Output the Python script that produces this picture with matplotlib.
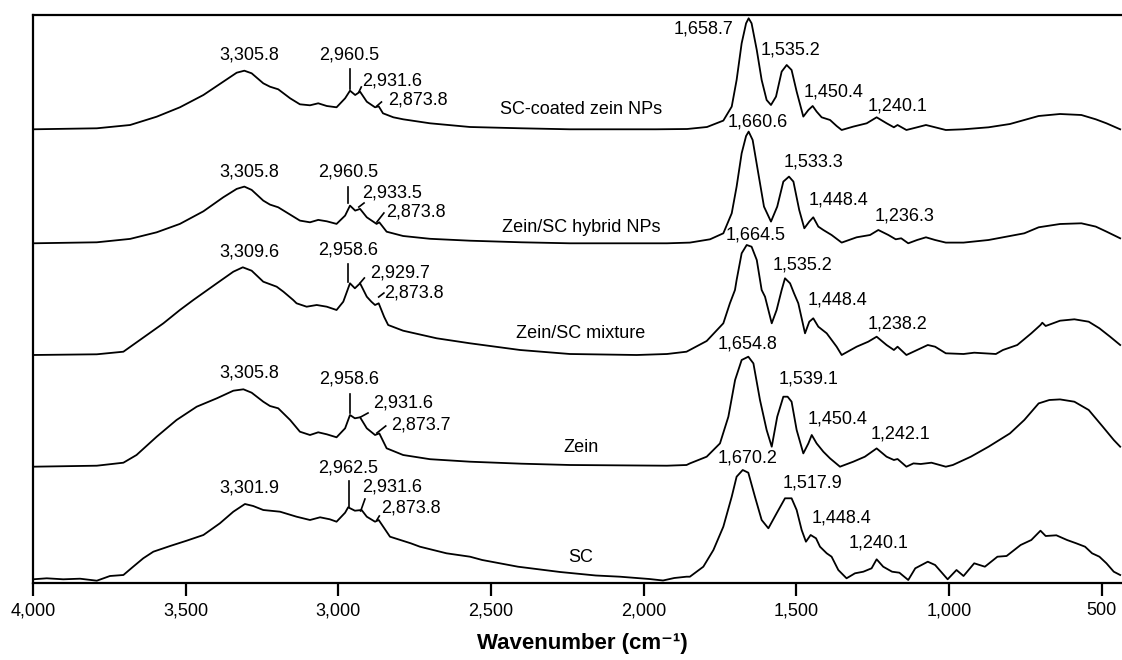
import matplotlib
matplotlib.use("Agg")
import matplotlib.pyplot as plt

plt.rcParams['font.family'] = ['Liberation Sans', 'DejaVu Sans']

# FTIR spectra: wavenumber (cm-1) and intensity above each trace's own baseline
wn_coated = [4000, 3791, 3682, 3595, 3519, 3442, 3377, 3333, 3308, 3284, 3246, 3224, 3197, 3158,
             3126, 3093, 3066, 3038, 3006, 2978, 2962, 2945, 2929, 2907, 2880, 2868, 2854, 2820,
             2788, 2700, 2569, 2400, 2242, 1960, 1858, 1793, 1739.5, 1712, 1696, 1679.5, 1665,
             1656.6, 1647, 1630, 1614, 1597.7, 1583.5, 1567, 1548.5, 1532, 1516, 1499.4, 1477.6,
             1461, 1447, 1434, 1417.6, 1390, 1368.5, 1352, 1314, 1270, 1237.5, 1204.7, 1181,
             1169, 1140, 1105, 1076, 1046, 1011, 953, 871, 801, 754, 707, 637, 567, 520, 485, 440]
i_coated = [0, 1, 4.3, 12.6, 22, 34.3, 47.6, 56.6, 58.6, 56, 46, 42.6, 40, 31,
            25, 24, 26, 23.3, 22, 31, 38.6, 34.3, 37.6, 27.6, 22, 23, 16, 12,
            10, 6, 2.3, 1, 0, 0, 0.3, 2.3, 8.7, 22.7, 49.3, 86, 106,
            111, 106, 79.3, 49.3, 29.3, 24.3, 32.7, 57.7, 64.3, 59.3, 37.7, 12.7,
            19.3, 23.3, 17.7, 12, 9.3, 3.3, -0.7, 2.7, 6, 12, 6, 2,
            4.3, -0.7, 2, 4.3, 2, -0.7, 0, 2, 5.3, 9.3, 13.3, 15.3, 14.3, 10, 6, 0]

wn_hybrid = [4000, 3791, 3682, 3595, 3519, 3442, 3377, 3333, 3308, 3284, 3246, 3224, 3197, 3158,
             3126, 3093, 3066, 3038, 3006, 2978, 2962, 2945, 2929, 2907, 2875, 2866, 2842, 2788,
             2700, 2569, 2400, 2242, 1924, 1849, 1783, 1739.5, 1712, 1696, 1679.5, 1665, 1656.6,
             1643.5, 1625, 1606.4, 1583.5, 1563, 1543, 1524.5, 1510, 1491, 1474.3, 1458, 1445,
             1428.5, 1412, 1385, 1352, 1303, 1259, 1232, 1199, 1175, 1157, 1134, 1105, 1076,
             1046, 1011, 953, 871, 801, 754, 707, 637, 567, 520, 485, 440]
i_hybrid = [0, 1, 4.4, 11, 19.4, 32, 46, 54.4, 56.7, 53.4, 42.7, 38.7, 36, 28.7,
            22.7, 21, 23.4, 22, 19.4, 27.7, 37.7, 32.7, 34.4, 26, 19.4, 21, 11.6, 7.3,
            4.5, 2.6, 1, 0, 0, 0.7, 4, 10, 30, 56.7, 90, 107.3, 111.7,
            103.3, 70, 36.7, 21.7, 36.7, 61.7, 66.7, 61.7, 33.3, 15, 21.7, 26,
            16.7, 13.3, 8.3, 0.7, 6, 8.3, 13.3, 8.3, 4, 5, 0, 3.3, 6,
            3.3, 0.7, 0.7, 3.3, 7.3, 10, 16, 19.3, 20, 16.7, 11.7, 5]

wn_mixture = [4000, 3791, 3704, 3650, 3573, 3519, 3475, 3398, 3344, 3313, 3284, 3246, 3202, 3180,
              3148, 3137, 3104, 3071, 3038, 3006, 2984, 2962, 2946, 2929, 2907, 2892, 2880, 2868,
              2850, 2837, 2788, 2678, 2569, 2405, 2242, 2023, 1924, 1860, 1794, 1739.5, 1718,
              1701.4, 1696, 1679.5, 1663, 1647, 1630, 1614, 1603, 1581, 1565, 1548.5, 1537.6,
              1521, 1508, 1494, 1472, 1458, 1445, 1428.5, 1401, 1368.5, 1352, 1303, 1265, 1237.5,
              1205, 1181, 1169, 1140, 1105, 1070, 1046, 1011, 953, 918, 847, 824, 777, 731, 701,
              695, 684, 637, 590, 543, 508, 473, 440]
i_mixture = [0, 0.7, 3.3, 15, 31.7, 45, 55, 71.7, 83.3, 87.7, 84.3, 73.3, 68.3, 63.3,
             55, 51.7, 48.3, 50, 48.3, 45, 53.3, 71.7, 66.7, 71.7, 58.3, 53.3, 50, 51.7,
             38, 30, 24.3, 16.7, 11.7, 5, 1, 0, 1, 3.3, 14, 31.7, 51.7,
             65, 75, 101.7, 110, 108.3, 95, 65, 58.3, 31.7, 45, 65, 76.7,
             71.7, 61.7, 51.7, 21.7, 33.3, 36.7, 28.3, 21.7, 8.3, 0, 8.3, 13.3, 18.3,
             10, 5, 8.3, 0, 5, 10, 8.3, 1.7, 1, 2.3, 1, 5, 10, 21.7, 30,
             32.3, 29, 34.3, 35.7, 33.3, 26.7, 18.3, 10]

wn_zein = [4000, 3791, 3704, 3661, 3595, 3530, 3464, 3398, 3344, 3311, 3284, 3246, 3224, 3197,
           3158, 3126, 3093, 3066, 3038, 3006, 2978, 2962, 2946, 2929, 2907, 2880, 2866, 2842,
           2788, 2700, 2569, 2400, 2242, 1924, 1860, 1849, 1794, 1750.5, 1723, 1701, 1679.5,
           1657.7, 1641, 1619.5, 1597.7, 1581, 1563, 1543, 1529, 1516, 1499.4, 1477.6, 1461,
           1450, 1434, 1412, 1390, 1357.5, 1314, 1276, 1237.5, 1205, 1181, 1169, 1140, 1117,
           1093, 1058, 1011, 988, 929, 871, 801, 754, 707, 672, 637, 590, 543, 497, 461, 440]
i_zein = [0, 1, 4, 11.7, 30, 46.7, 60, 68.4, 76, 77.4, 74, 65, 60.7, 58.4,
          46.7, 35, 31.7, 34.4, 32.4, 29.4, 38.4, 51.7, 48.4, 49.4, 38.4, 31.7, 33.3, 18.4,
          11.7, 7.5, 5, 3, 1.7, 1, 1.7, 3.3, 10, 23.3, 50, 86.7, 106.7,
          110, 103.3, 66.7, 36.7, 20, 50, 70, 70, 65, 36.7, 13.3, 23.3,
          31.7, 23.3, 15, 8.3, 0, 5, 10, 18.3, 10, 6.7, 7.7, 0, 3.3,
          2.7, 4, 0, 1.7, 10, 20, 33.3, 46.7, 63.3, 66.7, 67.3, 65, 56.7, 40, 26.7, 20]

wn_sc = [4000, 3955, 3901, 3846, 3791, 3748, 3704, 3672, 3639, 3606, 3551, 3497, 3442, 3388,
         3344, 3306, 3279, 3246, 3191, 3137, 3093, 3060, 3028, 3006, 2978, 2968, 2946, 2924,
         2907, 2880, 2868, 2831, 2763, 2733, 2646, 2569, 2529, 2412, 2274, 2157, 2078, 1982,
         1937, 1900, 1860, 1849, 1805, 1772, 1739.5, 1712, 1696, 1676, 1657.7, 1636, 1614,
         1592, 1565, 1537.6, 1516, 1499.4, 1483, 1469, 1453.6, 1436, 1423, 1401, 1385, 1363,
         1336, 1308.4, 1281, 1254, 1237.5, 1216, 1187, 1163, 1134, 1111, 1070, 1046, 1005,
         976, 953, 918, 883, 842, 812, 766, 731, 701, 684, 649, 614, 584, 555, 532, 508, 485,
         461, 440]
i_sc = [0.7, 1.7, 0.7, 1.3, -0.7, 4, 5, 13.3, 21.7, 28.3, 34, 39.3, 45, 56.7,
        68.3, 76, 74, 70, 68.3, 63.3, 60, 62.7, 60.7, 58.3, 67.3, 72.7, 69.3, 70,
        63.3, 58.3, 60, 43.3, 36.7, 33.3, 26.7, 23.3, 20, 13.3, 8, 4.5, 3.3, 1,
        -0.5, 2, 3.3, 3.3, 13.3, 30, 53.3, 83.3, 103.3, 110, 107.3, 83.3, 60,
        51.7, 66.7, 81.7, 81.7, 70, 50, 38.3, 45, 41.7, 33.3, 26.7, 23.3, 10,
        1.7, 6.7, 8.3, 11.7, 20.7, 13.3, 8.3, 7.3, 0, 11.7, 18.3, 15, 0.7,
        10, 4, 16.7, 13.3, 23.3, 24, 35, 40, 49.3, 44, 44.7, 40, 36.7, 33.3, 26.7, 23.3, 16.7,
        8.3, 5]

names = ["SC-coated zein NPs", "Zein/SC hybrid NPs", "Zein/SC mixture", "Zein", "SC"]
spectra = [(wn_coated, i_coated), (wn_hybrid, i_hybrid), (wn_mixture, i_mixture),
           (wn_zein, i_zein), (wn_sc, i_sc)]

# peak labels: (text, x, y) in data units of the stacked plot
peak_labels = [
    ("3,305.8", 3293, 528), ("2,960.5", 2965, 528), ("2,931.6", 2825, 502), ("2,873.8", 2739, 483),
    ("1,658.7", 1806, 554), ("1,535.2", 1518, 533), ("1,450.4", 1377, 491), ("1,240.1", 1169, 477),
    ("3,305.8", 3293, 411), ("2,960.5", 2969, 411), ("2,933.5", 2825, 390), ("2,873.8", 2746, 371),
    ("1,660.6", 1626, 461), ("1,533.3", 1443, 421), ("1,448.4", 1362, 383), ("1,236.3", 1145, 367),
    ("3,309.6", 3293, 331), ("2,958.6", 2969, 333), ("2,929.7", 2798, 310), ("2,873.8", 2752, 290),
    ("1,664.5", 1633, 348), ("1,535.2", 1479, 318), ("1,448.4", 1367, 283), ("1,238.2", 1169, 259),
    ("3,305.8", 3293, 210), ("2,958.6", 2965, 204), ("2,931.6", 2788, 180), ("2,873.7", 2729, 158),
    ("1,654.8", 1660, 239), ("1,539.1", 1459, 204), ("1,450.4", 1366, 164), ("1,242.1", 1158, 149),
    ("3,301.9", 3293, 95), ("2,962.5", 2969, 115), ("2,931.6", 2825, 96), ("2,873.8", 2763, 75),
    ("1,670.2", 1660, 125), ("1,517.9", 1446, 100), ("1,448.4", 1351, 65), ("1,240.1", 1230, 40),
]
name_y = [474, 356, 250, 135, 26]

# short leader marks next to the C-H peaks
leaders = [
    ((2962, 2962), (514, 494)), ((2933, 2925), (491, 496)), ((2874, 2859), (477, 481)),
    ((2969, 2969), (396, 380)), ((2933, 2916), (376, 380)), ((2874, 2851), (361, 370)),
    ((2969, 2969), (319, 301)), ((2929, 2915), (300, 305)), ((2868, 2851), (286, 290)),
    ((2962, 2962), (189, 170)), ((2927, 2903), (166, 170)), ((2874, 2845), (150, 157)),
    ((2965, 2965), (102, 76)), ((2927, 2913), (72, 84)), ((2874, 2866), (63, 67)),
]

offsets = [453.7, 339.7, 228, 116.3, 3]

fig = plt.figure(figsize=(11.22, 6.6), dpi=100)
ax = fig.add_axes([33 / 1122, 77 / 660, 1099.4 / 1122, 568 / 660])

for (wn, inten), off in zip(spectra, offsets):
    ax.plot(wn, [v + off for v in inten], color='black', lw=1.3, solid_joinstyle='round')

for txt, x, y in peak_labels:
    ax.text(x, y, txt, ha='center', va='center', fontsize=13)
for name, y in zip(names, name_y):
    ax.text(2206, y, name, ha='center', va='center', fontsize=13)
for xs, ys in leaders:
    ax.plot(xs, ys, color='black', lw=1.2)

ax.set_xlim(4000, 400)
ax.set_ylim(0, 568)
ax.set_xticks([4000, 3500, 3000, 2500, 2000, 1500, 1000, 500])
ax.set_xticklabels(["4,000", "3,500", "3,000", "2,500", "2,000", "1,500", "1,000", "500"])
ax.set_yticks([])
ax.tick_params(axis='x', direction='out', length=9, width=1.6, labelsize=13, pad=5)
for s in ['left', 'top', 'bottom']:
    ax.spines[s].set_linewidth(1.6)
ax.spines['right'].set_visible(False)
ax.set_xlabel("Wavenumber (cm\u207b\u00b9)", fontsize=16, fontweight='bold', labelpad=10)

fig.savefig("out.png", dpi=100)
